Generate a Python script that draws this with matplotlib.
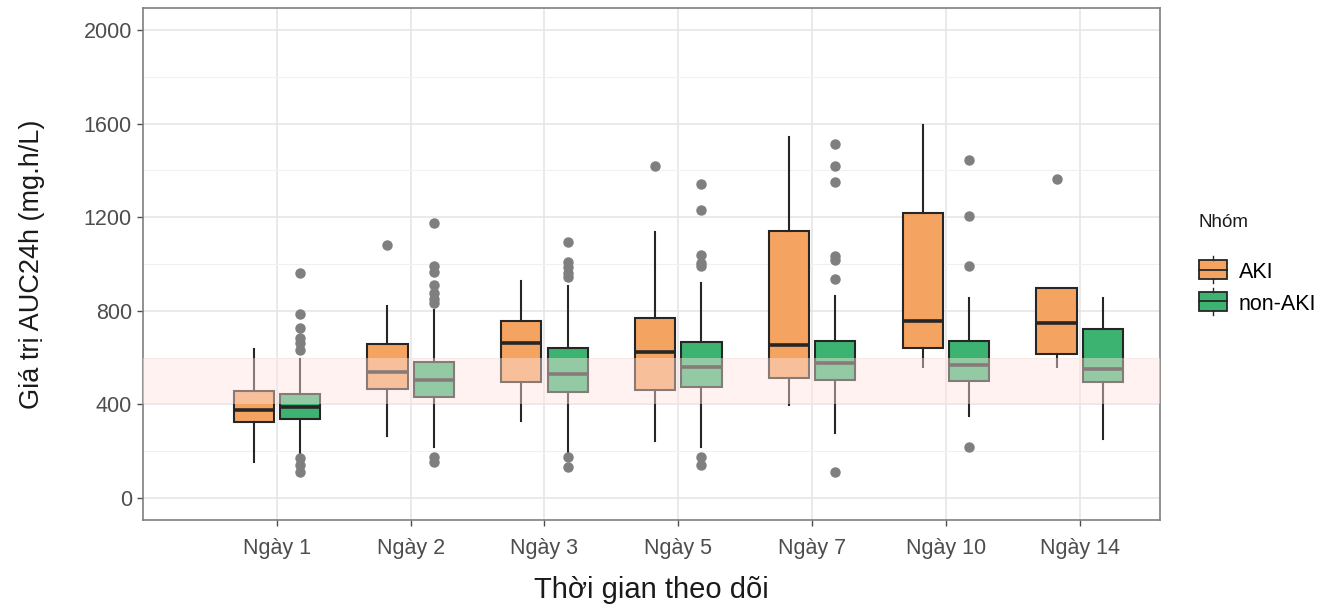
import matplotlib.pyplot as plt
from matplotlib.legend_handler import HandlerBase
from matplotlib.patches import Rectangle
from matplotlib.lines import Line2D

plt.rcParams['font.family'] = ['Liberation Sans', 'DejaVu Sans']

days = ['Ngày 1', 'Ngày 2', 'Ngày 3', 'Ngày 5', 'Ngày 7', 'Ngày 10', 'Ngày 14']

# AKI group: whisker low, q1, median, q3, whisker high
aki_lo = [154, 265, 329, 243, 397, 560, 560]
aki_q1 = [324, 465, 495, 461, 512, 640, 614]
aki_med = [376, 538, 662, 623, 653, 755, 747]
aki_q3 = [457, 657, 755, 768, 1140, 1216, 896]
aki_hi = [636, 820, 926, 1135, 1545, 1596, 896]
aki_out = [[], [1080], [], [1420], [], [], [1362]]

# non-AKI group
non_lo = [192, 218, 196, 218, 277, 350, 252]
non_q1 = [337, 431, 452, 474, 504, 499, 495]
non_med = [388, 504, 529, 559, 576, 568, 551]
non_q3 = [444, 580, 640, 666, 670, 670, 721]
non_hi = [593, 802, 905, 918, 862, 854, 854]
non_out = [[960, 785, 726, 683, 662, 632, 171, 141, 111],
           [1174, 990, 965, 909, 875, 849, 832, 175, 154],
           [1093, 1007, 986, 960, 943, 175, 132],
           [1340, 1233, 1040, 1003, 990, 175, 141],
           [1515, 1421, 1349, 1033, 1016, 935, 111],
           [1443, 1204, 990, 218],
           []]

c_aki = '#F4A460'
c_non = '#3CB371'
edge = '#262626'


def make_stats(lo, q1, med, q3, hi, out):
    return [dict(whislo=lo[i], q1=q1[i], med=med[i], q3=q3[i], whishi=hi[i], fliers=out[i])
            for i in range(len(lo))]


fig = plt.figure(figsize=(13.28, 6.09), dpi=100)
ax = fig.add_axes([0.1077, 0.146, 0.7658, 0.841])

pos = list(range(1, len(days) + 1))
off = 0.1735
w = 0.30

for stats, color, shift in [
        (make_stats(aki_lo, aki_q1, aki_med, aki_q3, aki_hi, aki_out), c_aki, -off),
        (make_stats(non_lo, non_q1, non_med, non_q3, non_hi, non_out), c_non, off)]:
    ax.bxp(stats, positions=[p + shift for p in pos], widths=w, patch_artist=True,
           showcaps=False, manage_ticks=False,
           boxprops=dict(facecolor=color, edgecolor=edge, linewidth=1.5),
           medianprops=dict(color=edge, linewidth=2.6),
           whiskerprops=dict(color=edge, linewidth=1.5),
           flierprops=dict(marker='o', markerfacecolor='#7f7f7f', markeredgecolor='#7f7f7f',
                           markersize=6.5),
           zorder=3)

# reference range band drawn over the boxes
ax.axhspan(400, 600, color='#ffe4e1', alpha=0.45, lw=0, zorder=5)

ax.set_xlim(0.0, 7.6)
ax.set_ylim(-95, 2095)
ax.set_xticks(pos)
ax.set_xticklabels(days)
ax.set_yticks([0, 400, 800, 1200, 1600, 2000])
ax.set_yticks([200, 600, 1000, 1400, 1800], minor=True)
ax.grid(True, which='major', color='#e6e6e6', linewidth=1.2, zorder=0)
ax.grid(True, which='minor', axis='y', color='#f0f0f0', linewidth=0.8, zorder=0)
ax.set_axisbelow(True)
ax.tick_params(axis='both', which='major', labelsize=15.5, colors='#4d4d4d',
               length=4, width=1, direction='out', pad=4)
ax.tick_params(axis='y', which='minor', length=0)
ax.tick_params(axis='x', pad=9)
for s in ax.spines.values():
    s.set_color('#7f7f7f')
    s.set_linewidth(1.2)

ax.set_xlabel('Thời gian theo dõi', fontsize=21, labelpad=12, color='#1a1a1a')
ax.set_ylabel('Giá trị AUC24h (mg.h/L)', fontsize=19.5, labelpad=28, color='#1a1a1a')


class BoxKey(HandlerBase):
    def create_artists(self, legend, orig, xd, yd, width, height, fontsize, trans):
        fc = orig.get_facecolor()
        r = Rectangle((xd, yd - 0.1 * height), width, height * 1.2,
                      facecolor=fc, edgecolor=edge, lw=1.3, transform=trans)
        m = Line2D([xd, xd + width], [yd + height / 2] * 2, color=edge, lw=1.3, transform=trans)
        t = Line2D([xd + width / 2] * 2, [yd + 1.1 * height, yd + 1.35 * height],
                   color=edge, lw=1.0, transform=trans)
        b = Line2D([xd + width / 2] * 2, [yd - 0.1 * height, yd - 0.35 * height],
                   color=edge, lw=1.0, transform=trans)
        return [r, m, t, b]


h_aki = Rectangle((0, 0), 1, 1, facecolor=c_aki)
h_non = Rectangle((0, 0), 1, 1, facecolor=c_non)
leg = fig.legend([h_aki, h_non], ['AKI', 'non-AKI'], handler_map={Rectangle: BoxKey()},
                 loc='upper left', bbox_to_anchor=(0.888, 0.68), frameon=False,
                 title='Nhóm', title_fontsize=13.5, fontsize=15.5, handlelength=1.3,
                 handleheight=0.75, handletextpad=0.55, labelspacing=0.5)
leg._legend_box.align = 'left'
leg._legend_box.sep = 22
leg.get_title().set_color('#1a1a1a')

fig.savefig('out.png', dpi=100)
